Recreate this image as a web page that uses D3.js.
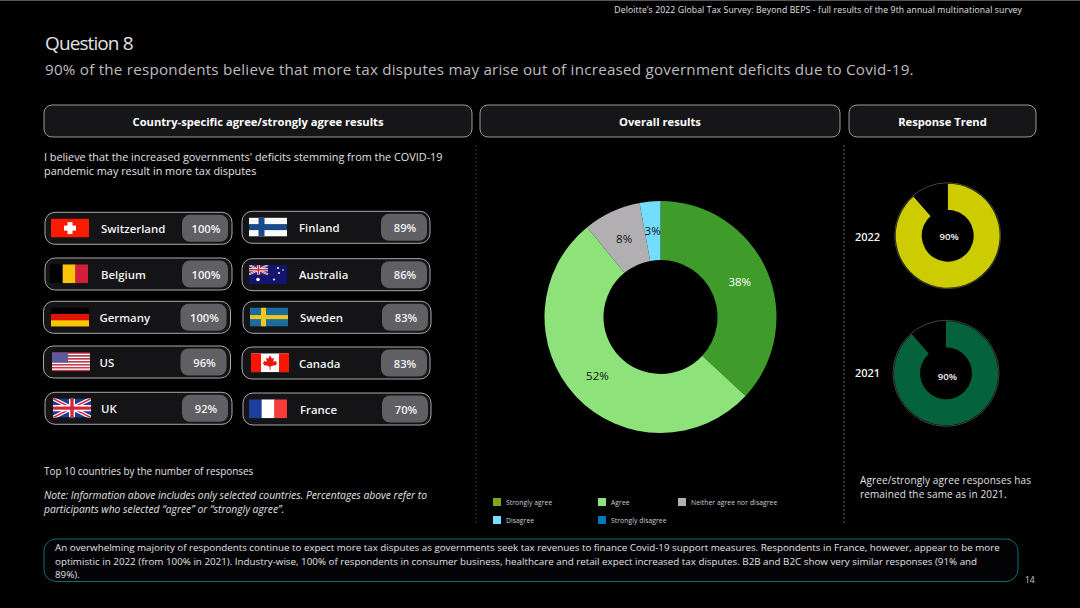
<!doctype html>
<html>
<head>
<meta charset="utf-8"/>
<title>Question 8</title>
<script src="https://cdnjs.cloudflare.com/ajax/libs/d3/7.8.5/d3.min.js"></script>
<style>
  html, body { margin: 0; background: #000; }
  svg { display: block; }
  text { font-family: "Open Sans", "Noto Sans", sans-serif; fill: #e2e2e2; }
  .panel { fill: #161618; stroke: #9a9a9a; stroke-width: 1px; }
  .card { fill: #141416; stroke: #a8a8a8; stroke-width: 1px; }
  .pill { fill: #5f5f64; }
  .sep { stroke-width: 1px; stroke-dasharray: 2 2; }
</style>
</head>
<body>
<svg width="1080" height="608"></svg>
<script>
var answers = ["Strongly agree", "Agree", "Neither agree nor disagree", "Disagree", "Strongly disagree"];
var answerShares = [36.9, 52.2, 8, 2.9, 0];
var answerLabels = ["38%", "52%", "8%", "3%", ""];
var answerColors = ["#3f9c2a", "#8de27a", "#b1afb1", "#74dcff", "#0077b8"];
var legendColors = ["#7fa51e", "#8de27a", "#b1afb1", "#74dcff", "#0077b8"];

// country results
var leftCountries = ["Switzerland", "Belgium", "Germany", "US", "UK"];
var leftValues = [100, 100, 100, 96, 92];
var rightCountries = ["Finland", "Australia", "Sweden", "Canada", "France"];
var rightValues = [89, 86, 83, 83, 70];

// response trend
var trendYears = ["2022", "2021"];
var trendLabels = ["90%", "90%"];
var trendFilled = [88.6, 88.6]; // the rings on the slide stop a little short of 90
var trendColors = ["#cccc00", "#04633a"];

var svg = d3.select("svg");

function label(x, y, str, size, opts) {
  opts = opts || {};
  return svg.append("text")
    .attr("x", x).attr("y", y)
    .attr("font-size", size)
    .attr("font-weight", opts.weight || 400)
    .attr("font-style", opts.italic ? "italic" : null)
    .attr("text-anchor", opts.anchor || "start")
    .style("fill", opts.fill || null)
    .style("letter-spacing", opts.ls ? opts.ls + "px" : null)
    .text(str);
}

// header
svg.append("line").attr("x1", 0).attr("x2", 1080).attr("y1", 0.5).attr("y2", 0.5).attr("stroke", "#555");
label(1022, 13, "Deloitte\u2019s 2022 Global Tax Survey: Beyond BEPS  - full results of the 9th annual multinational survey", 8.6, {anchor: "end", ls: 0.14});
label(45, 50, "Question 8", 19, {ls: -0.9});
label(45, 75, "90% of the respondents believe that more tax disputes may arise out of increased government deficits due to Covid-19.", 15.2, {fill: "#bdbdbd", ls: 0.23});

// section headers
var panels = [
  {x: 44, w: 428, t: "Country-specific agree/strongly agree results"},
  {x: 480, w: 360, t: "Overall results"},
  {x: 849, w: 187, t: "Response Trend"}
];
panels.forEach(function(p) {
  svg.append("rect").attr("class", "panel").attr("x", p.x).attr("y", 105).attr("width", p.w).attr("height", 32).attr("rx", 8);
  label(p.x + p.w / 2, 126, p.t, 11.2, {anchor: "middle", weight: 700, fill: "#fff"});
});

svg.append("line").attr("class", "sep").attr("stroke", "#3a3a3a").attr("x1", 476).attr("x2", 476).attr("y1", 145).attr("y2", 525);
svg.append("line").attr("class", "sep").attr("stroke", "#666").attr("x1", 844).attr("x2", 844).attr("y1", 145).attr("y2", 523);

label(44, 161, "I believe that the increased governments' deficits stemming from the COVID-19", 10.85);
label(44, 175, "pandemic may result in more tax disputes", 10.85);

// flags, drawn into a 38x19 box
var defs = svg.append("defs");
defs.append("clipPath").attr("id", "flagClip").append("rect").attr("width", 38).attr("height", 19);

function bars(g, colors, vertical) {
  var b = d3.scaleBand().domain(d3.range(colors.length)).range([0, vertical ? 38 : 19]);
  colors.forEach(function(c, i) {
    var r = g.append("rect").attr("fill", c);
    if (vertical) r.attr("x", b(i)).attr("width", b.bandwidth() + 0.3).attr("height", 19);
    else r.attr("y", b(i)).attr("height", b.bandwidth() + 0.3).attr("width", 38);
  });
}
function box(g, x, y, w, h, c) { g.append("rect").attr("x", x).attr("y", y).attr("width", w).attr("height", h).attr("fill", c); }
function seg(g, d, c, w) { g.append("path").attr("d", d).attr("stroke", c).attr("stroke-width", w).attr("fill", "none"); }
function unionJack(g, w, h) {
  box(g, 0, 0, w, h, "#1f3a93");
  var diag = "M0,0L" + w + "," + h + "M" + w + ",0L0," + h;
  seg(g, diag, "#fff", h * 0.2);
  seg(g, diag, "#d5283a", h * 0.08);
  var cross = "M" + w / 2 + ",0V" + h + "M0," + h / 2 + "H" + w;
  seg(g, cross, "#fff", h * 0.32);
  seg(g, cross, "#d5283a", h * 0.18);
}

var flags = {
  "Switzerland": function(g) { box(g, 0, 0, 38, 19, "#f91a00"); box(g, 16.5, 3.5, 5, 12, "#fff"); box(g, 13, 7, 12, 5, "#fff"); },
  "Belgium": function(g) { bars(g, ["#000", "#fcc30b", "#d21f3c"], true); },
  "Germany": function(g) { bars(g, ["#000", "#e01200", "#ffc400"], false); },
  "Finland": function(g) { box(g, 0, 0, 38, 19, "#fafafa"); box(g, 9.5, 0, 6, 19, "#1a4a8a"); box(g, 0, 6.5, 38, 6, "#1a4a8a"); },
  "Sweden": function(g) { box(g, 0, 0, 38, 19, "#1d6a9e"); box(g, 11, 0, 5, 19, "#f2c81c"); box(g, 0, 7.5, 38, 4, "#f2c81c"); },
  "France": function(g) { bars(g, ["#1c3f9e", "#fff", "#f83b3b"], true); },
  "Canada": function(g) {
    box(g, 0, 0, 38, 19, "#fff");
    box(g, 0, 0, 10, 19, "#fa1500");
    box(g, 28, 0, 10, 19, "#fa1500");
    g.append("path").attr("fill", "#e8170a")
      .attr("d", "M19,2L21,5.5L23,4.5L22.2,9L24,7.5L26,9.5L25,12L21,12.5L19.5,13.5V16.5H18.5V13.5L17,12.5L13,12L12,9.5L14,7.5L15.8,9L15,4.5L17,5.5Z");
  },
  "US": function(g) {
    var y = d3.scaleBand().domain(d3.range(13)).range([0, 19]);
    d3.range(13).forEach(function(i) { box(g, 0, y(i), 38, y.bandwidth() + 0.1, i % 2 ? "#fff" : "#d8344a"); });
    box(g, 0, 0, 16, 10.2, "#5a5a9c");
  },
  "UK": function(g) { unionJack(g, 38, 19); },
  "Australia": function(g) {
    box(g, 0, 0, 38, 19, "#14146e");
    unionJack(g, 19, 9.5);
    [[9, 14.5, 1.8], [25, 14.5, 1], [30, 8, 1], [34, 5, 0.8], [29, 3, 1]].forEach(function(s) {
      g.append("circle").attr("cx", s[0]).attr("cy", s[1]).attr("r", s[2]).attr("fill", "#fff");
    });
  }
};

// country cards. the cards are not quite on a grid in the source slide
var leftRowY = [228.3, 274, 317.3, 362, 408.3];
var rightRowY = [227.3, 274.7, 317.3, 363, 409];
var leftRowX = [45, 45, 43.5, 43.5, 45];
var rightRowX = [242, 242, 243, 242, 243];
var leftFlagX = [51, 50, 51, 52, 53];
var rightFlagX = [249, 249, 250, 251, 249];

function drawCards(names, values, rowX, rowY, flagX, width, pillX, nameDx) {
  names.forEach(function(name, i) {
    var x = rowX[i], y = rowY[i];
    var g = svg.append("g").attr("transform", "translate(" + x + "," + (y - 16) + ")");
    g.append("rect").attr("class", "card").attr("width", width).attr("height", 32).attr("rx", 10);
    var f = g.append("g").attr("transform", "translate(" + (flagX[i] - x) + ",6.3)").attr("clip-path", "url(#flagClip)");
    flags[name](f);
    label(x + nameDx, y + 4.5, name, 11.4, {weight: 600, fill: "#f2f2f2"});
    g.append("rect").attr("class", "pill").attr("x", pillX).attr("y", 2.5).attr("width", 46).attr("height", 27).attr("rx", 8);
    label(x + pillX + 24, y + 4.5, values[i] + "%", 11.2, {weight: 600, anchor: "middle", fill: "#f2f2f2"});
  });
}
drawCards(leftCountries, leftValues, leftRowX, leftRowY, leftFlagX, 187, 137, 56);
drawCards(rightCountries, rightValues, rightRowX, rightRowY, rightFlagX, 188, 139, 57);

label(44, 475, "Top 10 countries by the number of responses", 9.9);
label(44, 499, "Note: Information above includes only selected countries. Percentages above refer to", 10.3, {italic: true});
label(44, 513, "participants who selected \u201Cagree\u201D or \u201Cstrongly agree\u201D.", 10.3, {italic: true});

// overall donut
var pie = d3.pie().sort(null);
var mainArc = d3.arc().innerRadius(57).outerRadius(116);
var mainG = svg.append("g").attr("transform", "translate(660.5,317)");
var slices = pie(answerShares);

mainG.selectAll("path").data(slices).enter().append("path")
  .attr("d", mainArc)
  .attr("fill", function(d, i) { return answerColors[i]; });

mainG.selectAll("text").data(slices.filter(function(d) { return d.value > 0; })).enter().append("text")
  .attr("transform", function(d) { return "translate(" + mainArc.centroid(d) + ")"; })
  .attr("text-anchor", "middle")
  .attr("dy", "0.35em")
  .attr("font-size", 11.5)
  .style("fill", function(d) { return d.index === 0 ? "#fff" : "#111"; })
  .text(function(d) { return answerLabels[d.index]; });

// legend
var legendX = [493, 598, 678, 493, 598];
var legendY = [502, 502, 502, 520, 520];
answers.forEach(function(a, i) {
  svg.append("rect").attr("x", legendX[i]).attr("y", legendY[i] - 4).attr("width", 8).attr("height", 8).attr("fill", legendColors[i]);
  label(legendX[i] + 13, legendY[i] + 2.5, a, 6.7, {fill: "#cfcfcf", ls: 0.1});
});

// response trend donuts
var trendArc = d3.arc().innerRadius(26).outerRadius(52);
var trendCx = [947.7, 946];
var trendCy = [235.7, 373.3];
var trendLabelY = [241, 377];
var trendPctY = [240, 380];
trendYears.forEach(function(year, i) {
  var g = svg.append("g").attr("transform", "translate(" + trendCx[i] + "," + trendCy[i] + ")");
  g.append("circle").attr("r", 53).attr("fill", "none").attr("stroke", "#555").attr("stroke-width", 0.8);
  g.selectAll("path").data(pie([trendFilled[i], 100 - trendFilled[i]])).enter().append("path")
    .attr("d", trendArc)
    .attr("fill", function(d, j) { return j === 0 ? trendColors[i] : "#000"; });
  label(855, trendLabelY[i], year, 11, {weight: 600, fill: "#f2f2f2"});
  label(trendCx[i] + 1.5, trendPctY[i], trendLabels[i], 9.6, {weight: 600, anchor: "middle", fill: "#f2f2f2"});
});

label(860, 484, "Agree/strongly agree responses has", 10, {ls: 0.13});
label(860, 498, "remained the same as in 2021.", 10, {ls: 0.13});

// commentary box
svg.append("rect").attr("x", 44).attr("y", 539).attr("width", 974).attr("height", 42.5).attr("rx", 12)
  .attr("fill", "#030305").attr("stroke", "#0e6a70").attr("stroke-width", 1);
label(55, 551, "An overwhelming majority of respondents continue to expect more tax disputes as governments seek tax revenues to finance Covid-19 support measures. Respondents in France, however, appear to be more", 9.8);
label(55, 564.5, "optimistic in 2022 (from 100% in 2021). Industry-wise, 100% of respondents in consumer business, healthcare and retail expect increased tax disputes. B2B and B2C show very similar responses (91% and", 9.8);
label(55, 578, "89%).", 9.8);

label(1025, 583, "14", 8.5, {fill: "#cfcfcf"});
</script>
</body>
</html>
